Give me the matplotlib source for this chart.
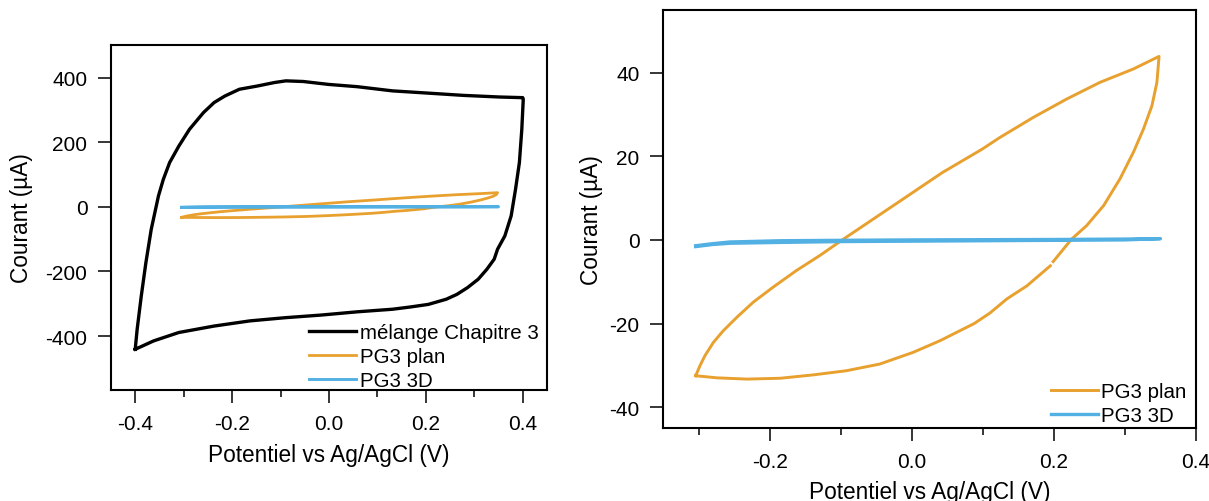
import numpy as np
import matplotlib
matplotlib.use('Agg')
import matplotlib.pyplot as plt
from matplotlib.ticker import MultipleLocator

plt.rcParams['font.family'] = ['Liberation Sans', 'DejaVu Sans']
plt.rcParams['axes.unicode_minus'] = False

# black CV, "mélange Chapitre 3" (V, µA)
melange_v = [-0.400, -0.396, -0.3875, -0.378, -0.367, -0.352, -0.342, -0.329, -0.310,
             -0.288, -0.259, -0.237, -0.215, -0.185, -0.148, -0.112, -0.089, -0.053,
             -0.001, 0.058, 0.131, 0.205, 0.278, 0.352, 0.400,
             0.401, 0.398, 0.393, 0.385, 0.376, 0.363, 0.348, 0.341, 0.326, 0.308,
             0.286, 0.264, 0.242, 0.205, 0.168, 0.131, 0.058, -0.016, -0.089, -0.163,
             -0.237, -0.310, -0.362, -0.400]
melange_i = [-441, -379, -276, -173, -70, 34, 85, 137, 188,
             240, 292, 323, 343, 364, 374, 385, 390, 388,
             379, 372, 359, 352, 345, 340, 338,
             333, 240, 137, 54, -28, -90, -131, -162, -193, -224,
             -250, -271, -286, -302, -310, -317, -325, -335, -343, -353,
             -369, -389, -415, -441]

# orange CV, "PG3 plan" (nan = small gap in the recorded trace)
plan_v = [-0.304, -0.298, -0.291, -0.279, -0.265, -0.246, -0.223, -0.195, -0.162,
          -0.129, -0.096, -0.054, -0.012, 0.043, 0.099, 0.124, 0.171, 0.218,
          0.265, 0.312, 0.348,
          0.345, 0.338, 0.326, 0.312, 0.293, 0.270, 0.246, 0.225, 0.199, np.nan,
          0.195, 0.162, 0.134, 0.110, 0.088, 0.040, 0.002, -0.045, -0.092,
          -0.139, -0.185, -0.232, -0.274, -0.304]
plan_i = [-32.5, -30.1, -27.7, -24.5, -21.7, -18.5, -14.9, -11.3, -7.3,
          -3.7, 0.2, 5.0, 9.8, 16.1, 21.7, 24.5, 29.3, 33.7,
          37.7, 40.9, 43.9,
          37.7, 32.1, 26.5, 21.0, 14.6, 8.2, 3.4, 0.2, -5.2, np.nan,
          -6.2, -11.0, -14.1, -17.5, -20.0, -24.1, -26.9, -29.7, -31.3,
          -32.3, -33.1, -33.3, -33.0, -32.5]

# blue CV, "PG3 3D"
td_v = [-0.304, -0.28, -0.256, -0.185, -0.10, 0.00, 0.10, 0.20, 0.30, 0.35,
        0.35, 0.30, 0.20, 0.10, 0.00, -0.10, -0.185, -0.256, -0.28, -0.304]
td_i = [-1.4, -0.9, -0.5, -0.2, -0.1, 0.0, 0.05, 0.1, 0.2, 0.3,
        0.3, 0.0, -0.1, -0.2, -0.3, -0.4, -0.6, -0.8, -1.1, -1.6]

orange = '#E8A02E'
blue = '#52B0E3'

W, H = 1209, 502
fig = plt.figure(figsize=(W / 100, H / 100), dpi=100)

def px_axes(x0, y0, x1, y1):
    return fig.add_axes([x0 / W, 1 - y1 / H, (x1 - x0) / W, (y1 - y0) / H])

def style(ax):
    for s in ax.spines.values():
        s.set_linewidth(1.5)
    ax.tick_params(axis='both', which='major', direction='out', length=9.5,
                   width=1.1, labelsize=15, pad=7.5)
    ax.tick_params(axis='x', which='minor', direction='out', length=5, width=1.1)
    ax.tick_params(axis='y', which='minor', length=0)
    ax.xaxis.set_major_locator(MultipleLocator(0.2))
    ax.xaxis.set_minor_locator(MultipleLocator(0.1))
    ax.xaxis.set_major_formatter(plt.FuncFormatter(lambda v, p: f'{v:.1f}'.replace('-0.0', '0.0')))

leg_kw = dict(loc='lower right', frameon=False, fontsize=14.8, handlelength=2.3,
              handletextpad=0.15, labelspacing=0.25, borderpad=0, borderaxespad=0)

# left panel
ax1 = px_axes(111, 46, 547, 391)
ax1.plot(melange_v, melange_i, color='black', lw=2.4, label='mélange Chapitre 3')
ax1.plot(plan_v, plan_i, color=orange, lw=2.0, label='PG3 plan')
ax1.plot(td_v, td_i, color=blue, lw=2.1, label='PG3 3D')
ax1.set_xlim(-0.45, 0.45)
ax1.set_ylim(-567, 501)
ax1.yaxis.set_major_locator(MultipleLocator(200))
style(ax1)
ax1.set_xlabel('Potentiel vs Ag/AgCl (V)', fontsize=16.3)
ax1.set_ylabel('Courant (µA)', fontsize=16.3)
ax1.xaxis.set_label_coords(0.5, -0.155)
ax1.yaxis.set_label_coords(-0.18, 0.5)
ax1.legend(bbox_to_anchor=(0.98, 0.0), **leg_kw)

# right panel
ax2 = px_axes(663, 11, 1196, 429)
ax2.plot(plan_v, plan_i, color=orange, lw=2.1, label='PG3 plan')
ax2.plot(td_v, td_i, color=blue, lw=2.4, label='PG3 3D')
ax2.set_xlim(-0.35, 0.4)
ax2.set_ylim(-45, 55)
ax2.yaxis.set_major_locator(MultipleLocator(20))
style(ax2)
ax2.set_xlabel('Potentiel vs Ag/AgCl (V)', fontsize=16.3)
ax2.set_ylabel('Courant (µA)', fontsize=16.3)
ax2.xaxis.set_label_coords(0.5, -0.125)
ax2.yaxis.set_label_coords(-0.112, 0.5)
ax2.legend(bbox_to_anchor=(0.982, 0.007), **leg_kw)

fig.savefig('out.png', dpi=100)
